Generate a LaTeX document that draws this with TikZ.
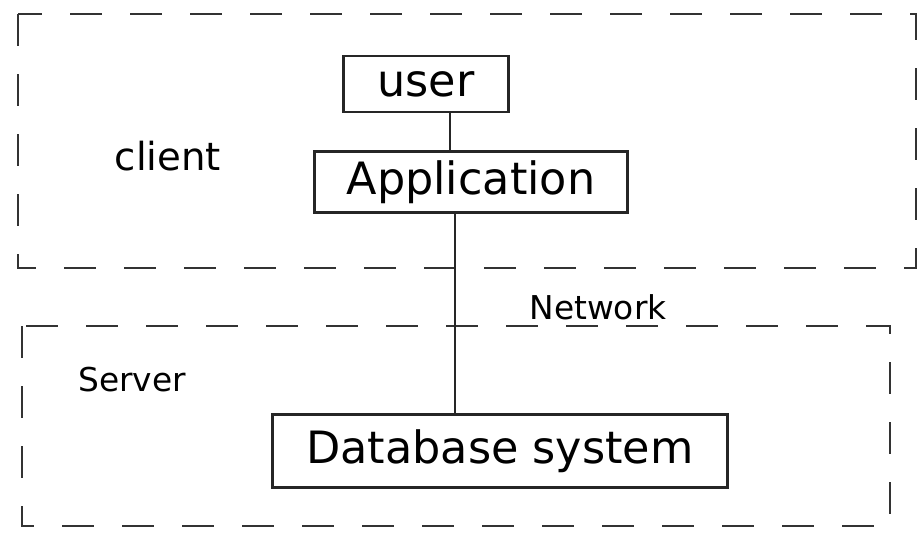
\documentclass[tikz,border=0pt]{standalone}
\usepackage{fontspec}
\setmainfont{DejaVu Sans}
\begin{document}
\begin{tikzpicture}[x=0.03cm,y=-0.03cm,
  ink/.style={draw=black!85, line width=2.2pt},
  region/.style={draw=black!80, line width=1.6pt, dash pattern=on 0.95cm off 0.85cm},
  boxnode/.style={ink, rectangle, inner sep=0pt, font=\fontsize{38}{44}\selectfont},
  tag/.style={font=\fontsize{28}{34}\selectfont, inner sep=0pt}]
  % canvas
  \useasboundingbox (0,0) rectangle (921,549);
  % client and server areas
  \draw[region] (18,14) rectangle (916,268);
  \draw[region] (22,326) rectangle (890,526);
  % components
  \node[boxnode, minimum width=165*0.03cm, minimum height=56*0.03cm] (user) at (426,84) {user};
  \node[boxnode, minimum width=313*0.03cm, minimum height=61*0.03cm] (app) at (471,182) {Application};
  \node[boxnode, minimum width=455*0.03cm, minimum height=73*0.03cm] (db) at (500,451) {Database system};
  % connectors
  \draw[ink] (user.south -| 450,0) -- (app.north -| 450,0);
  \draw[ink] (app.south -| 455,0) -- (db.north -| 455,0);
  % labels
  \node[tag, font=\fontsize{33}{40}\selectfont] (client) at (168,156) {client};
  \node[tag] (server) at (132,380) {Server};
  \node[tag] (net) at (598,307) {Network};
\end{tikzpicture}
\end{document}
